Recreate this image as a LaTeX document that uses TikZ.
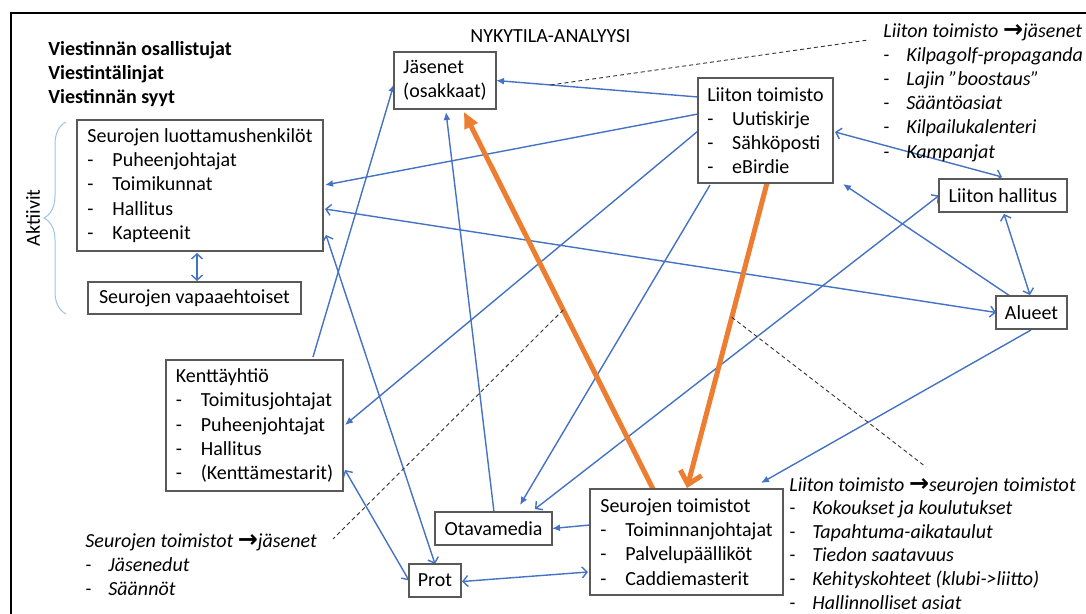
\documentclass[tikz,border=0pt]{standalone}
\usepackage{fontspec}
\setmainfont{Carlito}
\newfontfamily\symbolfont{DejaVu Sans}
\usetikzlibrary{arrows.meta,backgrounds,calc,decorations.pathreplacing}

\definecolor{linkblue}{HTML}{4472C4}
\definecolor{flow}{HTML}{ED7D31}
\definecolor{frame}{HTML}{595959}
\definecolor{bracecol}{HTML}{9DC3E6}

\newcommand{\itm}[1]{\makebox[12.5pt][l]{-}#1}
\newcommand{\noteitm}[1]{\makebox[11.5pt][l]{-}#1}
\newcommand{\toarrow}{{\symbolfont\bfseries\fontsize{12}{12}\selectfont →}}

\begin{document}
\begin{tikzpicture}[x=0.5pt, y=-0.5pt,
            box/.style={draw=frame, fill=white, line width=0.65pt, anchor=north west, align=left, inner xsep=4pt, inner ysep=2pt, outer sep=0pt, font=\fontsize{10}{12.1}\selectfont},
            tag/.style={box, align=center},
            note/.style={anchor=north west, align=left, inner sep=0pt, font=\fontsize{10}{12.1}\selectfont\itshape},
            link/.style={draw=linkblue, line width=0.7pt, -{Latex[length=4pt,width=3.5pt]}},
            twoway/.style={draw=linkblue, line width=0.7pt, {Straight Barb[length=2.5pt,width=5.5pt]}-{Straight Barb[length=2.5pt,width=5.5pt]}},
            main/.style={draw=flow, line width=2.5pt},
            aside/.style={draw=black!80, line width=0.45pt, dash pattern=on 2pt off 1.5pt}
            ]
            \useasboundingbox (0,0) rectangle (1086,614);
            \draw[line width=1pt] (11,700) -- (11,13) -- (1200,13);
            
            % Headings
            \node[note, font=\fontsize{10}{11.9}\selectfont\bfseries] (heads) at (48,41) {Viestinnän osallistujat\\Viestintälinjat\\Viestinnän syyt};
            \node[anchor=base west, inner sep=0pt, font=\fontsize{10}{12}\selectfont] (title) at (470,43) {NYKYTILA-ANALYYSI};
            
            % Actors
            \node[box, minimum width=51pt, minimum height=28.5pt] (jasenet) at (394,52) {Jäsenet\\(osakkaat)};
            \node[box, minimum width=67.5pt, minimum height=52.5pt] (liitto) at (698,78) {Liiton toimisto\\\itm{Uutiskirje}\\\itm{Sähköposti}\\\itm{eBirdie}};
            \node[box, minimum width=123pt, minimum height=65.5pt] (luott) at (77,120) {Seurojen luottamushenkilöt\\\itm{Puheenjohtajat}\\\itm{Toimikunnat}\\\itm{Hallitus}\\\itm{Kapteenit}};
            \node[tag, minimum width=106.5pt, minimum height=16pt] (vapaa) at (88,282) {Seurojen vapaaehtoiset};
            \node[tag, minimum width=64pt, minimum height=16.5pt] (hallitus) at (939,179) {Liiton hallitus};
            \node[tag, minimum width=35.5pt, minimum height=16.5pt] (alueet) at (996,296) {Alueet};
            \node[box, minimum width=88.5pt, minimum height=65.5pt] (kentta) at (166,360) {Kenttäyhtiö\\\itm{Toimitusjohtajat}\\\itm{Puheenjohtajat}\\\itm{Hallitus}\\\itm{(Kenttämestarit)}};
            \node[tag, minimum width=58.5pt, minimum height=16.5pt] (otava) at (435,512) {Otavamedia};
            \node[tag, minimum width=26pt, minimum height=16.5pt] (prot) at (409,564) {Prot};
            \node[box, minimum width=96.5pt, minimum height=53pt] (seurat) at (590,489) {Seurojen toimistot\\\itm{Toiminnanjohtajat}\\\itm{Palvelupäälliköt}\\\itm{Caddiemasterit}};
            
            % Active group
            \draw[bracecol, line width=0.5pt, decorate, decoration={brace, amplitude=11pt}] (66,314) -- (66,122);
            \node[rotate=90, inner sep=0pt, font=\fontsize{10}{12}\selectfont] (aktiivit) at (33,218) {Aktiivit};
            
            % Message contents
            \node[note] (note1) at (883,23) {Liiton toimisto \toarrow{}jäsenet\\\noteitm{Kilpagolf-propaganda}\\\noteitm{Lajin ”boostaus”}\\\noteitm{Sääntöasiat}\\\noteitm{Kilpailukalenteri}\\\noteitm{Kampanjat}};
            \node[note, font=\fontsize{10}{11.8}\selectfont\itshape] (note2) at (789,477) {Liiton toimisto \toarrow{}seurojen toimistot\\\noteitm{Kokoukset ja koulutukset}\\\noteitm{Tapahtuma-aikataulut}\\\noteitm{Tiedon saatavuus}\\\noteitm{Kehityskohteet (klubi->liitto)}\\\noteitm{Hallinnolliset asiat}};
            \node[note] (note3) at (85,533) {Seurojen toimistot \toarrow{}jäsenet\\\noteitm{Jäsenedut}\\\noteitm{Säännöt}};
            
            \begin{scope}[on background layer]
            % Liiton toimisto outwards
            \draw[link] ($(liitto.north west)+(0,19)$) -- coordinate[pos=0.73] (d1) (jasenet.east);
            \draw[link] ($(liitto.north west)+(0,36)$) -- ($(luott.north east)+(2,65)$);
            \draw[link] ($(liitto.north west)+(0,53)$) -- ($(kentta.north east)+(2,65)$);
            \draw[link] ($(liitto.south west)+(12,2)$) -- ($(otava.north west)+(85,-7)$);
            \draw[twoway] ($(liitto.north east)+(2,54)$) -- ($(hallitus.north west)+(63,-2)$);
            
            % Regions and board
            \draw[twoway] (alueet.west) -- ($(luott.north east)+(2,89)$);
            \draw[link] ($(alueet.north west)+(14,0)$) -- ($(liitto.south east)+(10,1)$);
            \draw[twoway] ($(hallitus.south west)+(65,2)$) -- ($(alueet.north west)+(34,-1)$);
            \draw[twoway] (hallitus.west) -- ($(otava.north west)+(100,-3)$);
            \draw[link] ($(alueet.south west)+(35,1)$) -- ($(seurat.north west)+(171,-6)$);
            
            % Clubs
            \draw[twoway] ($(luott.south west)+(120,2)$) -- ($(vapaa.north west)+(109,-1)$);
            \draw[link] ($(kentta.north west)+(147,-3)$) -- ($(jasenet.south west)+(0,-25)$);
            \draw[twoway] (prot.north) -- ($(luott.north east)+(3,115)$);
            \draw[link] ($(otava.north west)+(59,0)$) -- ($(jasenet.south west)+(52,3)$);
            \draw[link] ($(seurat.north west)+(0,36)$) -- (otava.east);
            \draw[twoway] ($(prot.east)+(1,1)$) -- ($(seurat.north west)+(-2,83)$);
            \draw[twoway] ($(kentta.north east)+(2,110)$) -- (prot.west);
            
            % Main flows
            \draw[main, -{Triangle[length=8pt,width=7pt]}] ($(seurat.north west)+(63,0)$) -- coordinate[pos=0.475] (d2) ($(jasenet.south west)+(70,3)$);
            \draw[main, -{Straight Barb[length=6pt,width=11pt]}] ($(liitto.south west)+(69,0)$) -- coordinate[pos=0.44] (d3) ($(seurat.north west)+(97,-1)$);
            
            % Note leaders
            \draw[aside] (d1) -- ($(note1.north west)+(-15,17)$);
            \draw[aside] (d2) -- ($(note3.north west)+(248,6)$);
            \draw[aside] (d3) -- ($(note2.north west)+(137,-10)$);
            \end{scope}
            
        \end{tikzpicture}
\end{document}
